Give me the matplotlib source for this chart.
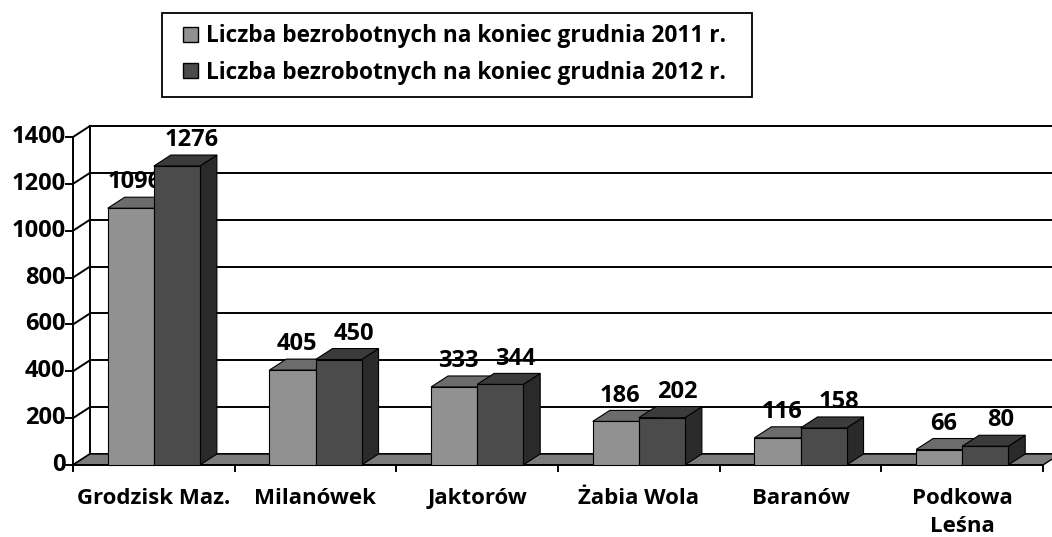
import matplotlib.pyplot as plt
from matplotlib.patches import Polygon, Patch, Rectangle

plt.rcParams['font.family'] = ['Open Sans', 'DejaVu Sans']
plt.rcParams['font.weight'] = 'bold'

# dane
gminy = ['Grodzisk Maz.', 'Milanówek', 'Jaktorów', 'Żabia Wola', 'Baranów', 'Podkowa\nLeśna']
bezrobotni_2011 = [1096, 405, 333, 186, 116, 66]
bezrobotni_2012 = [1276, 450, 344, 202, 158, 80]
serie = ['Liczba bezrobotnych na koniec grudnia 2011 r.',
         'Liczba bezrobotnych na koniec grudnia 2012 r.']
y_ticks = [0, 200, 400, 600, 800, 1000, 1200, 1400]

# kolory (front, góra, bok)
kolory = [('#919191', '#6c6c6c', '#585858'),
          ('#4b4b4b', '#3b3b3b', '#2a2a2a')]
podloga = '#7b7b7b'

DX = 0.105   # głębokość "3D" w jednostkach kategorii
DY = 47      # głębokość w jednostkach osi y
SZER = 0.285

W, H = 1052, 537
fig = plt.figure(figsize=(W / 100, H / 100), dpi=100)
ax = fig.add_axes([73 / W, (H - 465) / H, (1043 - 73) / W, 328 / H])
ax.set_xlim(0, len(gminy))
ax.set_ylim(0, 1400)
ax.axis('off')

n = len(gminy)
lw = 1.4

# ściana tylna + linie siatki
for t in y_ticks:
    ax.plot([DX, n + DX + 0.2], [t + DY, t + DY], color='black', lw=lw, clip_on=False, zorder=1)
    ax.plot([0, DX], [t, t + DY], color='black', lw=lw, clip_on=False, zorder=1)
    ax.plot([-0.045, 0], [t, t], color='black', lw=lw, clip_on=False, zorder=1)
    ax.text(-0.048, t, str(t), ha='right', va='center', fontsize=17, zorder=1)
ax.plot([DX, DX], [DY, 1400 + DY], color='black', lw=lw, clip_on=False, zorder=1)
ax.plot([0, 0], [0, 1400], color='black', lw=lw, clip_on=False, zorder=1)

# podłoga
ax.add_patch(Polygon([(0, 0), (n, 0), (n + DX, DY), (DX, DY)], closed=True,
                     facecolor=podloga, edgecolor='black', lw=1.0, clip_on=False, zorder=2))
ax.plot([0, n], [0, 0], color='black', lw=lw, clip_on=False, zorder=2)
for i in range(n + 1):
    ax.plot([i, i], [0, -25], color='black', lw=lw, clip_on=False, zorder=2)

# słupki
z = 3
for i in range(n):
    for s, wartosci in enumerate([bezrobotni_2011, bezrobotni_2012]):
        v = wartosci[i]
        x0 = i + 0.5 - SZER + s * SZER
        x1 = x0 + SZER
        f, t_, b = kolory[s]
        ax.add_patch(Polygon([(x1, 0), (x1 + DX, DY), (x1 + DX, v + DY), (x1, v)],
                             facecolor=b, edgecolor='black', lw=0.8, clip_on=False, zorder=z))
        ax.add_patch(Polygon([(x0, v), (x1, v), (x1 + DX, v + DY), (x0 + DX, v + DY)],
                             facecolor=t_, edgecolor='black', lw=0.8, clip_on=False, zorder=z))
        ax.add_patch(Polygon([(x0, 0), (x1, 0), (x1, v), (x0, v)],
                             facecolor=f, edgecolor='black', lw=0.8, clip_on=False, zorder=z))
        ax.annotate(str(v), xy=((x0 + x1) / 2, v + DY), xytext=(3 + 8 * s, 2),
                    textcoords='offset points', ha='center', va='bottom',
                    fontsize=17, zorder=z, annotation_clip=False)
        z += 1

# etykiety kategorii
for i, g in enumerate(gminy):
    ax.text(i + 0.5, -100, g, ha='center', va='top', fontsize=16,
            linespacing=1.42, zorder=2)

# legenda (ramka rysowana osobno)
fig.patches.append(Rectangle((162 / W, 1 - 97 / H), (752 - 162) / W, 84 / H,
                             transform=fig.transFigure, facecolor='white',
                             edgecolor='black', lw=1.3, zorder=0))
uchwyty = [Patch(facecolor=kolory[0][0], edgecolor='black'),
           Patch(facecolor=kolory[1][0], edgecolor='black')]
leg = fig.legend(uchwyty, serie, loc='upper left', bbox_to_anchor=(172 / W, 1 - 13 / H),
                 frameon=False, fontsize=16.3,
                 handlelength=0.65, handleheight=0.65, handletextpad=0.35,
                 labelspacing=0.55, borderpad=0.5, borderaxespad=0)

fig.savefig('out.png', dpi=100)
